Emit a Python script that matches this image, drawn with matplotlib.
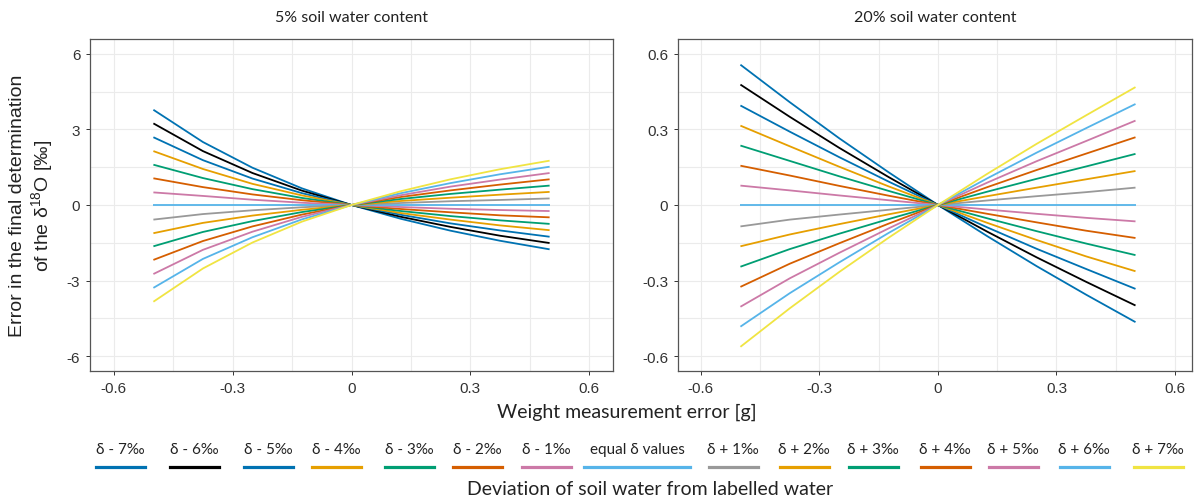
import matplotlib.pyplot as plt
import numpy as np
from matplotlib.lines import Line2D

plt.rcParams["axes.unicode_minus"] = False
plt.rcParams["mathtext.fontset"] = "custom"
plt.rcParams["mathtext.rm"] = "Liberation Sans"
plt.rcParams["mathtext.default"] = "regular"

# weight measurement error [g]
weight_err = [-0.5, -0.375, -0.25, -0.125, 0, 0.125, 0.25, 0.375, 0.5]

labels = ["δ - 7‰", "δ - 6‰", "δ - 5‰", "δ - 4‰", "δ - 3‰", "δ - 2‰", "δ - 1‰",
          "equal δ values",
          "δ + 1‰", "δ + 2‰", "δ + 3‰", "δ + 4‰", "δ + 5‰", "δ + 6‰", "δ + 7‰"]
colors = ["#0072B2", "#000000", "#0072B2", "#E69F00", "#009E73", "#D55E00", "#CC79A7",
          "#56B4E9",
          "#999999", "#E69F00", "#009E73", "#D55E00", "#CC79A7", "#56B4E9", "#F0E442"]

# 5% soil water content: error of each series at each weight error
soil5_m0500 = [3.78, 3.24, 2.69, 2.14, 1.60, 1.06, 0.50, 0, -0.58, -1.12, -1.64, -2.18, -2.74, -3.29, -3.84]
soil5_m0375 = [2.50, 2.14, 1.78, 1.43, 1.07, 0.71, 0.36, 0, -0.36, -0.71, -1.07, -1.43, -1.78, -2.14, -2.52]
soil5_m0250 = [1.48, 1.27, 1.05, 0.84, 0.63, 0.42, 0.21, 0, -0.21, -0.42, -0.64, -0.85, -1.06, -1.28, -1.49]
soil5_m0125 = [0.66, 0.57, 0.47, 0.38, 0.28, 0.19, 0.09, 0, -0.09, -0.19, -0.28, -0.38, -0.47, -0.57, -0.66]
soil5_zero = [0] * 15
soil5_p0125 = [-0.55, -0.47, -0.39, -0.32, -0.24, -0.16, -0.08, 0, 0.08, 0.16, 0.24, 0.32, 0.39, 0.47, 0.55]
soil5_p0250 = [-1.02, -0.87, -0.73, -0.58, -0.44, -0.29, -0.15, 0, 0.15, 0.29, 0.44, 0.58, 0.73, 0.87, 1.02]
soil5_p0375 = [-1.42, -1.22, -1.01, -0.81, -0.61, -0.41, -0.20, 0, 0.20, 0.41, 0.61, 0.81, 1.01, 1.22, 1.42]
soil5_p0500 = [-1.76, -1.51, -1.26, -1.00, -0.75, -0.49, -0.24, 0, 0.26, 0.52, 0.77, 1.02, 1.27, 1.52, 1.76]

# 20% soil water content
soil20_m0500 = [0.557, 0.478, 0.395, 0.315, 0.236, 0.156, 0.077, 0, -0.085, -0.164, -0.245, -0.325, -0.404, -0.483, -0.563]
soil20_m0375 = [0.408, 0.350, 0.291, 0.233, 0.175, 0.117, 0.058, 0, -0.058, -0.117, -0.175, -0.233, -0.291, -0.350, -0.410]
soil20_m0250 = [0.265, 0.227, 0.190, 0.152, 0.114, 0.076, 0.038, 0, -0.038, -0.076, -0.114, -0.152, -0.190, -0.228, -0.266]
soil20_m0125 = [0.130, 0.111, 0.093, 0.074, 0.056, 0.037, 0.019, 0, -0.019, -0.037, -0.056, -0.074, -0.093, -0.111, -0.130]
soil20_zero = [0] * 15
soil20_p0125 = [-0.124, -0.106, -0.089, -0.071, -0.053, -0.035, -0.018, 0, 0.018, 0.035, 0.053, 0.071, 0.089, 0.106, 0.124]
soil20_p0250 = [-0.243, -0.208, -0.174, -0.139, -0.104, -0.069, -0.035, 0, 0.035, 0.069, 0.104, 0.139, 0.174, 0.208, 0.243]
soil20_p0375 = [-0.356, -0.305, -0.254, -0.204, -0.153, -0.102, -0.051, 0, 0.051, 0.102, 0.153, 0.204, 0.254, 0.305, 0.356]
soil20_p0500 = [-0.465, -0.399, -0.333, -0.263, -0.199, -0.131, -0.065, 0, 0.069, 0.135, 0.203, 0.269, 0.335, 0.401, 0.468]

soil5 = np.column_stack([soil5_m0500, soil5_m0375, soil5_m0250, soil5_m0125, soil5_zero,
                         soil5_p0125, soil5_p0250, soil5_p0375, soil5_p0500])
soil20 = np.column_stack([soil20_m0500, soil20_m0375, soil20_m0250, soil20_m0125, soil20_zero,
                          soil20_p0125, soil20_p0250, soil20_p0375, soil20_p0500])

W, H = 1197, 502
fig = plt.figure(figsize=(W / 100, H / 100), dpi=100)
ax1 = fig.add_axes([90 / W, 130 / H, 523 / W, 332 / H])
ax2 = fig.add_axes([678 / W, 130 / H, 514 / W, 332 / H])

tick_font = dict(family="Liberation Sans", size=11, color="#333333")
title_font = ["Lato", "DejaVu Sans"]


def style(ax, data, yt, ylabels, ylim, xlim, title):
    for row, c in zip(data, colors):
        ax.plot(weight_err, row, color=c, lw=1.3, solid_capstyle="butt")
    ax.set_xlim(*xlim)
    ax.set_ylim(-ylim, ylim)
    ax.set_xticks([-0.6, -0.3, 0, 0.3, 0.6], labels=["-0.6", "-0.3", "0", "0.3", "0.6"])
    ax.set_yticks(yt, labels=ylabels)
    ax.set_xticks([-0.45, -0.15, 0.15, 0.45], minor=True)
    ax.set_yticks([yt[0] * 0.75, yt[0] * 0.25, yt[-1] * 0.25, yt[-1] * 0.75], minor=True)
    ax.grid(True, which="both", color="#ebebeb", lw=0.8)
    ax.set_axisbelow(True)
    ax.tick_params(which="major", length=3, width=0.7, color="#333333", pad=4)
    ax.tick_params(which="minor", length=0)
    for lab in ax.get_xticklabels() + ax.get_yticklabels():
        lab.set_fontfamily(tick_font["family"])
        lab.set_fontsize(tick_font["size"])
        lab.set_color(tick_font["color"])
    for s in ax.spines.values():
        s.set_color("#555555")
        s.set_linewidth(0.9)
    ax.set_title(title, family=title_font, fontsize=11.5, color="#222222", pad=13)


style(ax1, soil5, [-6, -3, 0, 3, 6], ["-6", "-3", "0", "3", "6"], 6.59, (-0.66, 0.66),
      "5% soil water content")
style(ax2, soil20, [-0.6, -0.3, 0, 0.3, 0.6], ["-0.6", "-0.3", "0", "0.3", "0.6"], 0.659,
      (-0.658, 0.643), "20% soil water content")

fig.text(32 / W, 1 - 206 / H, "Error in the final determination\nof the δ$^{18}$O [‰]",
         rotation=90, ha="center", va="center", multialignment="center",
         family="Liberation Sans", fontsize=14, color="#222222", linespacing=1.15)
fig.text(627 / W, 1 - 412 / H, "Weight measurement error [g]", ha="center", va="center",
         family=title_font, fontsize=14, color="#222222")

# legend: label above a short coloured bar
centers = [120, 194, 268, 336, 409, 477, 546, 637, 733, 804, 873, 945, 1013, 1084, 1158]
for lab, c, cx in zip(labels, colors, centers):
    half = 53 if lab == "equal δ values" else 24.5
    fig.text(cx / W, 1 - 450 / H, lab, ha="center", va="center",
             family=title_font, fontsize=11, color="#222222")
    fig.add_artist(Line2D([(cx - half) / W, (cx + half) / W], [1 - 468 / H] * 2,
                          color=c, lw=2.3, transform=fig.transFigure))
fig.text(650 / W, 1 - 490 / H, "Deviation of soil water from labelled water", ha="center",
         va="center", family=title_font, fontsize=14, color="#222222")

fig.savefig("out.png", dpi=100)
